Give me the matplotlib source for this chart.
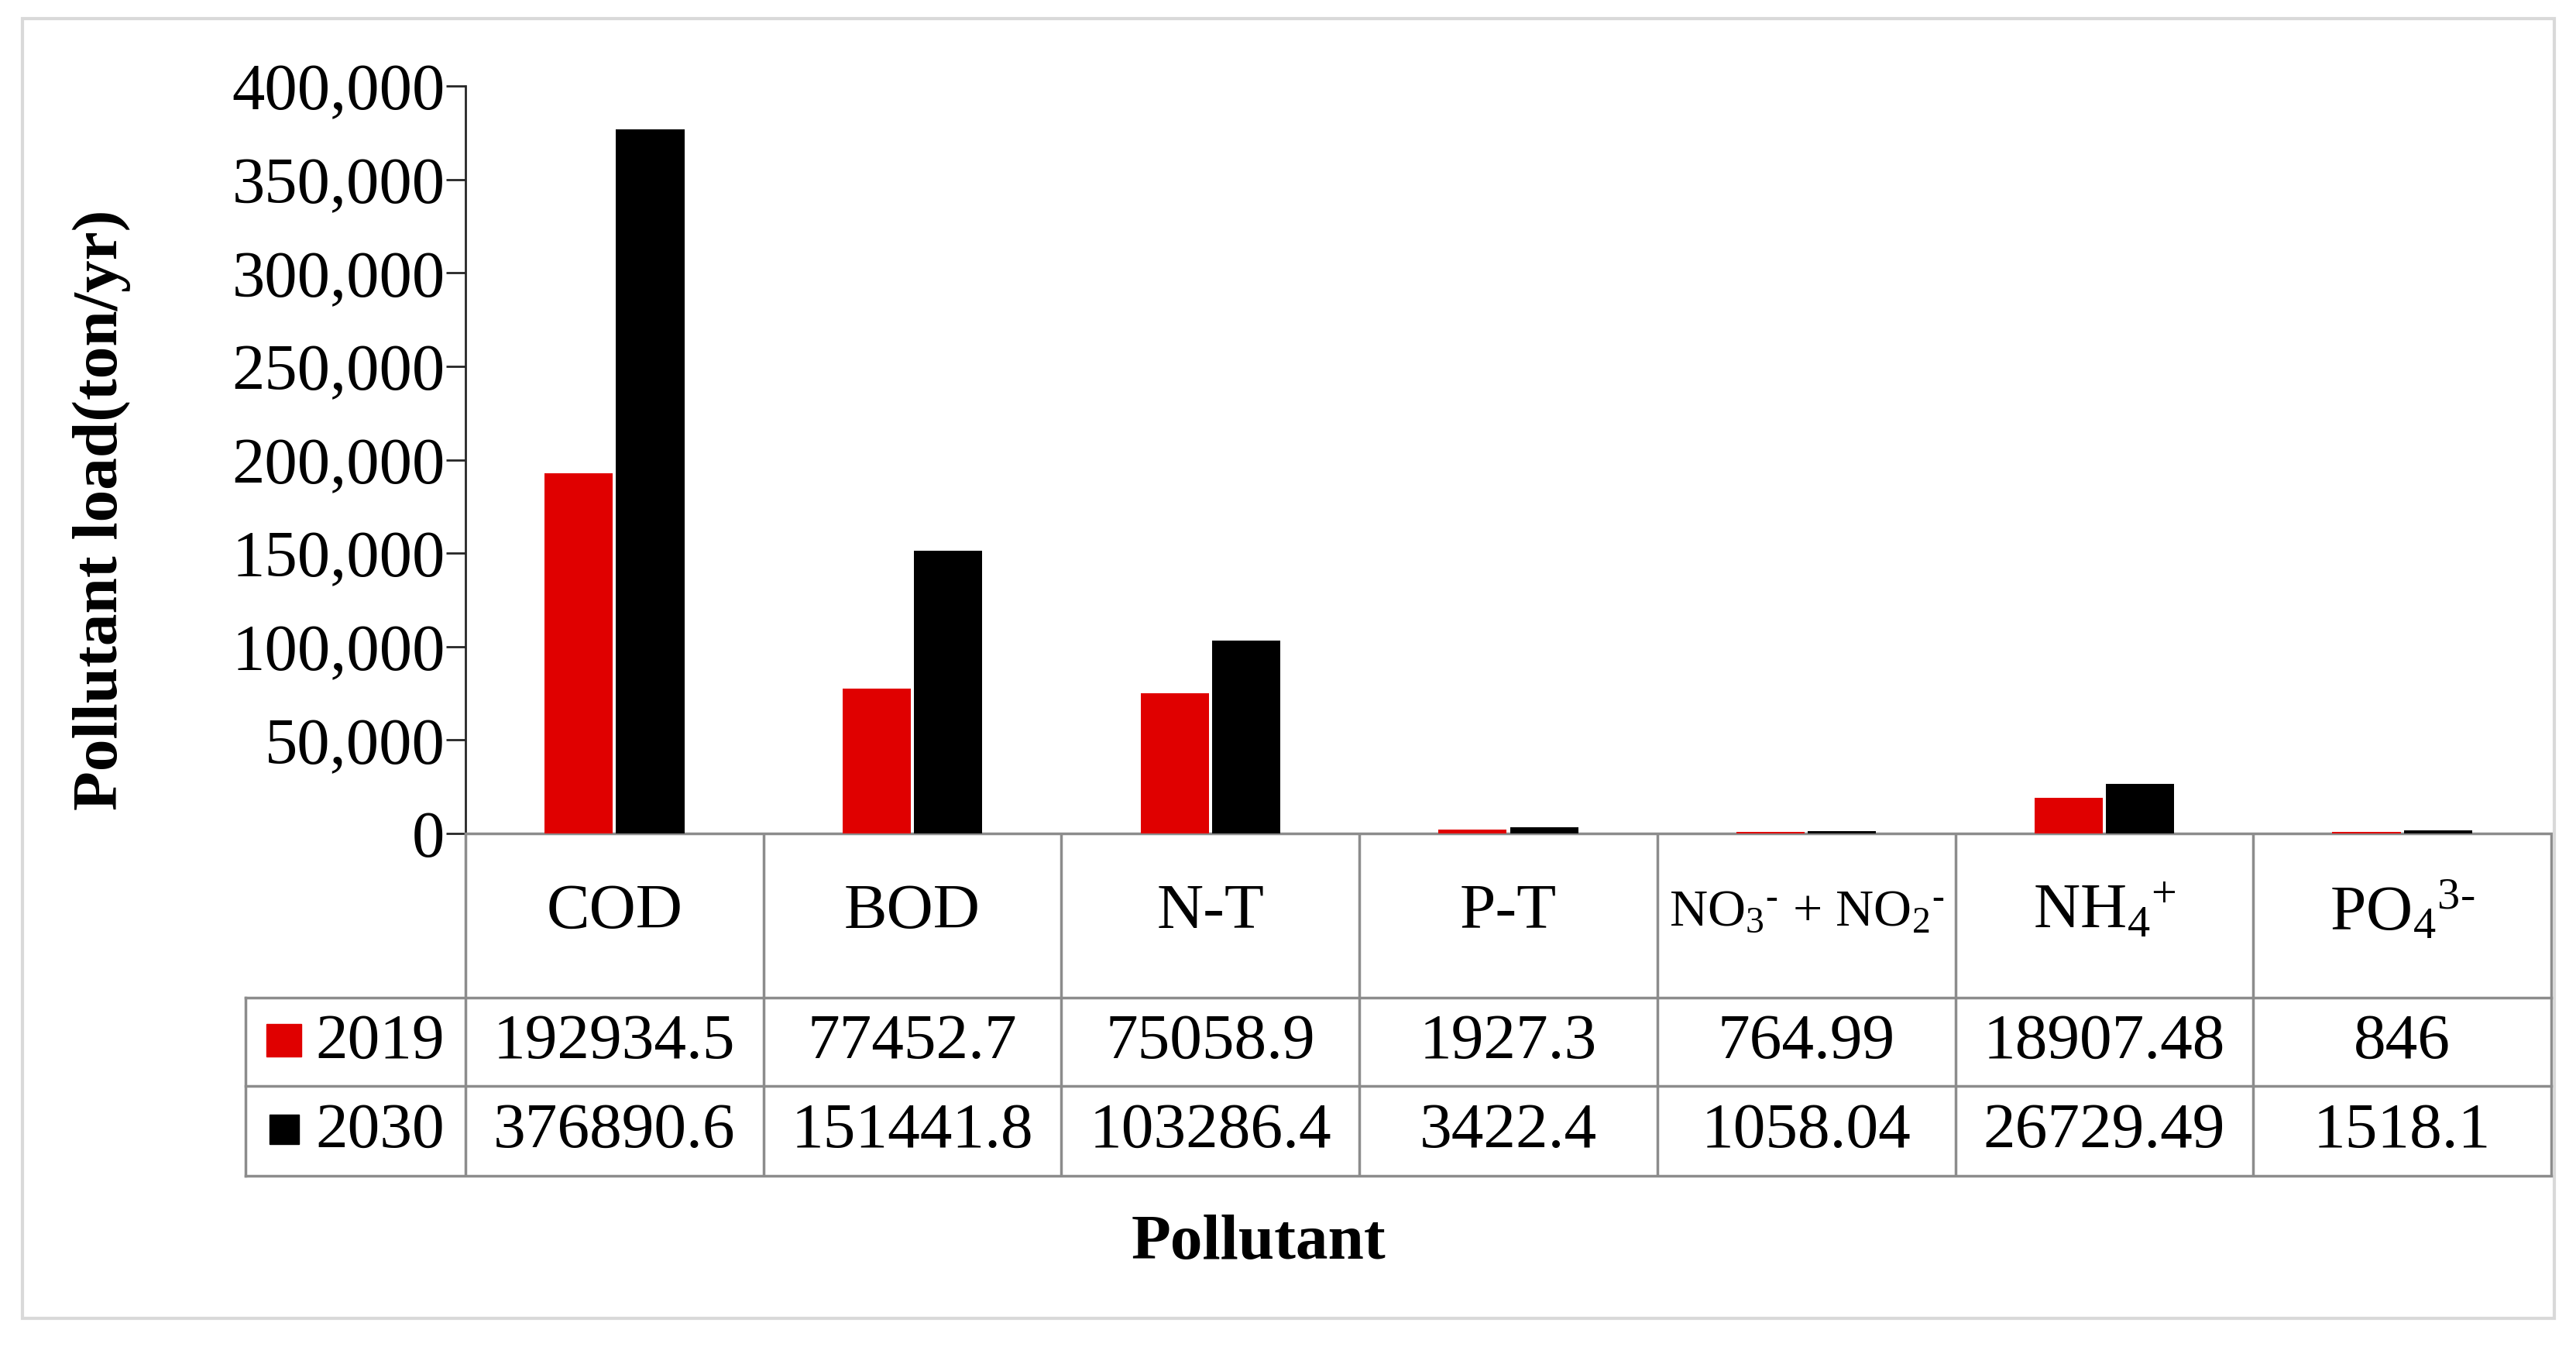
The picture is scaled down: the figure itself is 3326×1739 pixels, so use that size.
import matplotlib

matplotlib.use("Agg")
import matplotlib.pyplot as plt
import numpy as np
from matplotlib.patches import Rectangle
from matplotlib.ticker import StrMethodFormatter
from matplotlib.transforms import blended_transform_factory

plt.rcParams["font.family"] = ["Liberation Serif", "DejaVu Serif"]
plt.rcParams["mathtext.fontset"] = "custom"
plt.rcParams["mathtext.rm"] = "Liberation Serif"
plt.rcParams["mathtext.it"] = "Liberation Serif:italic"

# data (hyphen U+2010 in the charges so they don't become long minus signs)
pollutants = ["COD", "BOD", "N-T", "P-T",
              "NO$_3$$^{\u2010}$ + NO$_2$$^{\u2010}$", "NH$_4$$^{+}$", "PO$_4$$^{3\u2010}$"]
years = ["2019", "2030"]
load_2019 = [192934.5, 77452.7, 75058.9, 1927.3, 764.99, 18907.48, 846]
load_2030 = [376890.6, 151441.8, 103286.4, 3422.4, 1058.04, 26729.49, 1518.1]
table_2019 = ["192934.5", "77452.7", "75058.9", "1927.3", "764.99", "18907.48", "846"]
table_2030 = ["376890.6", "151441.8", "103286.4", "3422.4", "1058.04", "26729.49", "1518.1"]
yticks = [0, 50000, 100000, 150000, 200000, 250000, 300000, 350000, 400000]

RED, BLACK, GRID = "#e00000", "#000000", "#8c8c8c"
W, H = 3326, 1740


def fx(px):
    return px / W


def fy(py):
    return 1 - py / H


fig = plt.figure(figsize=(W / 100, H / 100), dpi=100)
fig.patch.set_facecolor("white")

# light outer frame
fig.add_artist(Rectangle((fx(29), fy(1703)), fx(3298) - fx(29), fy(25) - fy(1703),
                         transform=fig.transFigure, fill=False, ec="#d9d9d9", lw=3))

ax = fig.add_axes([fx(601), fy(1077), fx(3294) - fx(601), fy(112) - fy(1077)])
x = np.arange(len(pollutants))
ax.bar(x - 0.12, load_2019, width=0.229, color=RED, zorder=3)
ax.bar(x + 0.12, load_2030, width=0.229, color=BLACK, zorder=3)

ax.set_xlim(-0.5, len(pollutants) - 0.5)
ax.set_ylim(0, 400000)
ax.set_yticks(yticks)
ax.yaxis.set_major_formatter(StrMethodFormatter("{x:,.0f}"))
ax.set_xticks([])
ax.tick_params(axis="y", direction="out", length=18, width=2, color="#262626",
               labelsize=61, pad=1)
for s in ["top", "right"]:
    ax.spines[s].set_visible(False)
ax.spines["left"].set_color("#262626")
ax.spines["left"].set_linewidth(2)
ax.spines["bottom"].set_color(GRID)
ax.spines["bottom"].set_linewidth(2.5)

fig.text(fx(131), fy(658), "Pollutant load(ton/yr)", rotation=90, ha="center", va="center",
         fontsize=60, fontweight="bold")
fig.text(fx(1625), fy(1606), "Pollutant", ha="center", va="center", fontsize=60, fontweight="bold")

# data table below the axes
bt = blended_transform_factory(ax.transData, fig.transFigure)
y_top, y_r1, y_r2, y_bot = fy(1077), fy(1289), fy(1403), fy(1519)
for i in range(len(pollutants) + 1):
    ax.plot([i - 0.5, i - 0.5], [y_top, y_bot], transform=bt, color=GRID, lw=2.5,
            clip_on=False, solid_capstyle="butt")
for yy in [y_r1, y_r2, y_bot]:
    fig.add_artist(plt.Line2D([fx(317), fx(3294)], [yy, yy], transform=fig.transFigure,
                              color=GRID, lw=2.5))
fig.add_artist(plt.Line2D([fx(317), fx(317)], [y_r1, y_bot], transform=fig.transFigure,
                          color=GRID, lw=2.5))

for i, name in enumerate(pollutants):
    size = 49 if name.startswith("NO") else 60
    ax.text(i, fy(1178), name, transform=bt, ha="center", va="center", fontsize=size)
    ax.text(i, fy(1346), table_2019[i], transform=bt, ha="center", va="center", fontsize=60)
    ax.text(i, fy(1461), table_2030[i], transform=bt, ha="center", va="center", fontsize=60)

# row labels with colour keys
fig.add_artist(Rectangle((fx(344), fy(1365)), fx(389) - fx(344), fy(1323) - fy(1365),
                         transform=fig.transFigure, color=RED))
fig.add_artist(Rectangle((fx(348), fy(1478)), fx(386) - fx(348), fy(1440) - fy(1478),
                         transform=fig.transFigure, color=BLACK))
fig.text(fx(407), fy(1346), years[0], ha="left", va="center", fontsize=60)
fig.text(fx(407), fy(1461), years[1], ha="left", va="center", fontsize=60)

fig.savefig("out.png", dpi=100, facecolor="white")
